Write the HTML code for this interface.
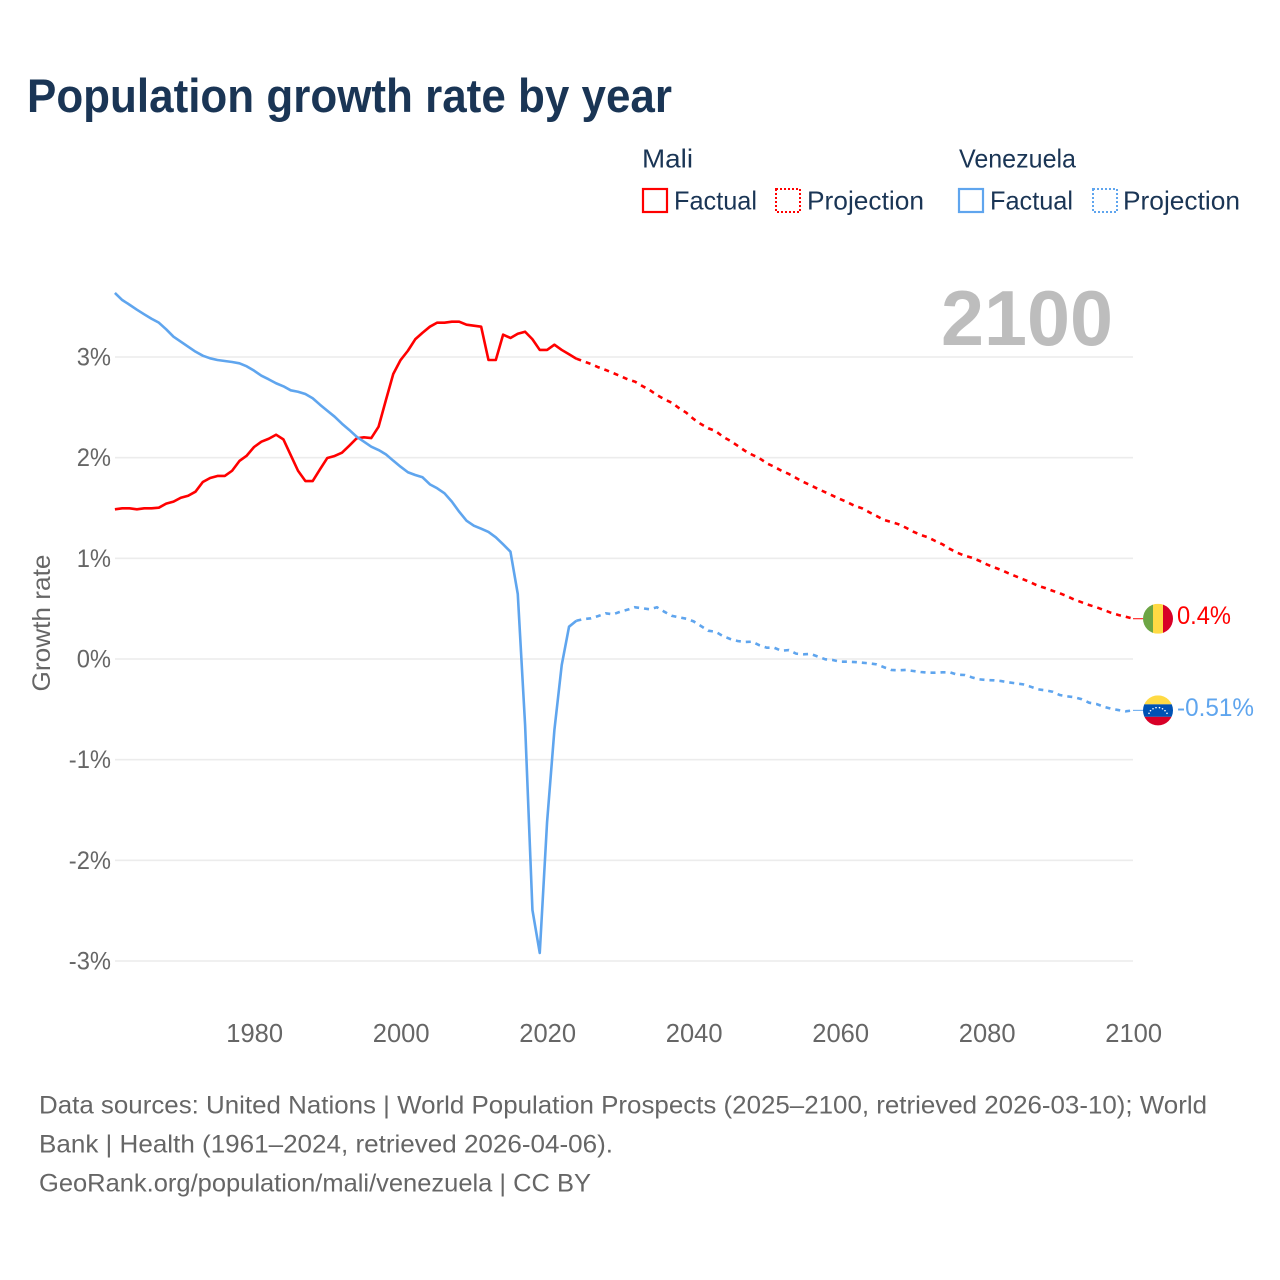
<!DOCTYPE html>
<html lang="en">
<head>
<meta charset="utf-8">
<title>Population growth rate by year</title>
<style>
html,body{margin:0;padding:0;background:#fff;width:1280px;height:1280px;overflow:hidden}
svg{display:block}
text{font-family:"Liberation Sans",sans-serif}
</style>
</head>
<body>
<svg id="chart" xmlns="http://www.w3.org/2000/svg" width="1280" height="1280" viewBox="0 0 1280 1280">
  <defs>
    <clipPath id="flag-clip"><circle cx="0" cy="0" r="15"></circle></clipPath>
  </defs>
  <rect x="0" y="0" width="1280" height="1280" fill="#fff"></rect>
  <text x="27" y="112" font-size="47" font-weight="700" fill="#1a3555" textLength="645" lengthAdjust="spacingAndGlyphs">Population growth rate by year</text>

  <g font-size="26" fill="#1a3555">
    <text x="642" y="167.5" textLength="51" lengthAdjust="spacingAndGlyphs">Mali</text>
    <text x="959" y="167.5" textLength="117" lengthAdjust="spacingAndGlyphs">Venezuela</text>
    <g>
      <rect x="643" y="189" width="24" height="23" fill="none" stroke="#ff0000" stroke-width="2.2"></rect>
      <text x="674" y="209.5" textLength="83" lengthAdjust="spacingAndGlyphs">Factual</text>
    </g>
    <g>
      <rect x="776" y="189" width="24" height="23" fill="none" stroke="#ff0000" stroke-width="2" stroke-dasharray="2 2"></rect>
      <text x="807" y="209.5" textLength="117" lengthAdjust="spacingAndGlyphs">Projection</text>
    </g>
    <g>
      <rect x="959" y="189" width="24" height="23" fill="none" stroke="#5fa5ee" stroke-width="2.2"></rect>
      <text x="990" y="209.5" textLength="83" lengthAdjust="spacingAndGlyphs">Factual</text>
    </g>
    <g>
      <rect x="1093" y="189" width="24" height="23" fill="none" stroke="#5fa5ee" stroke-width="2" stroke-dasharray="2 2"></rect>
      <text x="1123" y="209.5" textLength="117" lengthAdjust="spacingAndGlyphs">Projection</text>
    </g>
  </g>

  <g id="grid"></g>
  <g id="y-labels"></g>
  <g id="x-labels"></g>
  <text transform="translate(50,623) rotate(-90)" text-anchor="middle" font-size="25" fill="#666" textLength="137" lengthAdjust="spacingAndGlyphs">Growth rate</text>
  <text x="941" y="345" font-size="78" font-weight="700" fill="#bdbdbd" textLength="172" lengthAdjust="spacingAndGlyphs">2100</text>

  <g id="series"></g>

  <g id="flag-mali">
    <g clip-path="url(#flag-clip)">
      <rect x="-15" y="-15" width="10" height="30" fill="#6da544"></rect>
      <rect x="-5" y="-15" width="10" height="30" fill="#ffda44"></rect>
      <rect x="5" y="-15" width="10" height="30" fill="#d80027"></rect>
    </g>
  </g>
  <g id="flag-venezuela">
    <g clip-path="url(#flag-clip)">
      <rect x="-15" y="-15" width="30" height="9" fill="#ffda44"></rect>
      <rect x="-15" y="-6" width="30" height="12.5" fill="#0052b4"></rect>
      <rect x="-15" y="6.5" width="30" height="9" fill="#d80027"></rect>
      <g fill="#fff">
        <circle cx="-9" cy="3" r="0.8"></circle><circle cx="-7.5" cy="0.3" r="0.8"></circle><circle cx="-5" cy="-1.6" r="0.8"></circle><circle cx="-2" cy="-2.7" r="0.8"></circle><circle cx="1.5" cy="-2.7" r="0.8"></circle><circle cx="4.5" cy="-1.6" r="0.8"></circle><circle cx="7" cy="0.3" r="0.8"></circle><circle cx="9" cy="3" r="0.8"></circle>
      </g>
    </g>
  </g>
  <g id="end-labels"></g>

  <g font-size="25" fill="#666">
    <text x="39" y="1113.5" textLength="1168" lengthAdjust="spacingAndGlyphs">Data sources: United Nations | World Population Prospects (2025–2100, retrieved 2026-03-10); World</text>
    <text x="39" y="1152.5" textLength="574" lengthAdjust="spacingAndGlyphs">Bank | Health (1961–2024, retrieved 2026-04-06).</text>
    <text x="39" y="1191.5" textLength="552" lengthAdjust="spacingAndGlyphs">GeoRank.org/population/mali/venezuela | CC BY</text>
  </g>
</svg>
<script>
const factualStartYear = 1961;
const projectionStartYear = 2024;
const xTickYears = [1980, 2000, 2020, 2040, 2060, 2080, 2100];
const yTickValues = [3, 2, 1, 0, -1, -2, -3];
const yTickLabels = ['3%', '2%', '1%', '0%', '-1%', '-2%', '-3%'];
const maliFactual = [1.487,1.497,1.497,1.487,1.497,1.497,1.503,1.543,1.563,1.602,1.622,1.662,1.758,1.798,1.818,1.818,1.87,1.967,2.02,2.106,2.159,2.188,2.228,2.182,2.026,1.87,1.768,1.768,1.884,1.997,2.017,2.049,2.119,2.192,2.202,2.195,2.308,2.573,2.831,2.97,3.062,3.176,3.241,3.301,3.341,3.341,3.351,3.351,3.321,3.311,3.301,2.97,2.97,3.222,3.189,3.231,3.251,3.176,3.07,3.07,3.122,3.07,3.027,2.983];
const maliProjection = [2.983,2.957,2.930,2.898,2.871,2.841,2.811,2.778,2.755,2.712,2.672,2.622,2.580,2.546,2.493,2.447,2.384,2.334,2.292,2.265,2.208,2.168,2.119,2.069,2.029,1.994,1.944,1.910,1.870,1.838,1.798,1.758,1.725,1.689,1.656,1.622,1.589,1.557,1.521,1.497,1.457,1.420,1.381,1.361,1.338,1.304,1.265,1.232,1.209,1.172,1.139,1.093,1.056,1.026,1.006,0.976,0.941,0.911,0.884,0.851,0.821,0.792,0.762,0.728,0.705,0.678,0.653,0.623,0.589,0.563,0.536,0.514,0.487,0.459,0.437,0.420,0.40];
const venezuelaFactual = [3.636,3.566,3.519,3.470,3.424,3.380,3.341,3.275,3.202,3.152,3.102,3.053,3.013,2.987,2.970,2.960,2.950,2.937,2.907,2.864,2.814,2.778,2.739,2.709,2.669,2.655,2.632,2.590,2.526,2.466,2.407,2.337,2.275,2.208,2.159,2.109,2.076,2.033,1.970,1.910,1.855,1.828,1.805,1.735,1.696,1.646,1.563,1.463,1.374,1.324,1.294,1.262,1.209,1.139,1.066,0.646,-0.656,-2.493,-2.920,-1.619,-0.705,-0.060,0.321,0.380];
const venezuelaProjection = [0.380,0.397,0.404,0.427,0.454,0.444,0.470,0.490,0.514,0.504,0.494,0.514,0.470,0.430,0.414,0.400,0.374,0.328,0.281,0.271,0.228,0.199,0.179,0.169,0.172,0.136,0.112,0.112,0.082,0.089,0.053,0.047,0.050,0.023,-0.003,-0.010,-0.027,-0.027,-0.030,-0.037,-0.043,-0.053,-0.082,-0.109,-0.112,-0.109,-0.119,-0.129,-0.136,-0.136,-0.132,-0.132,-0.156,-0.159,-0.182,-0.202,-0.209,-0.212,-0.219,-0.232,-0.242,-0.252,-0.275,-0.301,-0.311,-0.325,-0.358,-0.371,-0.380,-0.400,-0.434,-0.447,-0.474,-0.494,-0.507,-0.520,-0.51];
const maliEndLabel = '0.4%';
const venezuelaEndLabel = '-0.51%';

const NS = 'http://www.w3.org/2000/svg';
const RED = '#ff0000';
const BLUE = '#5fa5ee';
const LINE_WIDTH = 2.6;
const xOf = function (year) { return 114.9 + (year - 1961) * 7.325; };
const yOf = function (value) { return 659 - value * 100.67; };
function make(tag, attrs, parent) {
  const el = document.createElementNS(NS, tag);
  Object.keys(attrs).forEach(function (k) { el.setAttribute(k, attrs[k]); });
  parent.appendChild(el);
  return el;
}
function linePoints(values, startYear) {
  return values.map(function (v, i) {
    return xOf(startYear + i).toFixed(2) + ',' + yOf(v).toFixed(2);
  }).join(' ');
}

const grid = document.getElementById('grid');
const yLabels = document.getElementById('y-labels');
yTickValues.forEach(function (v, i) {
  const line = make('line', { x1: 115, x2: 1133, y1: yOf(v), y2: yOf(v), stroke: '#ececec', 'stroke-width': 1.6 }, grid);
  
  
  const t = make('text', { x: 111, y: yOf(v) + 8.5, 'text-anchor': 'end', 'font-size': 25, fill: '#666' }, yLabels);
  
  
  t.textContent = yTickLabels[i];
  t.setAttribute('textLength', (t.getComputedTextLength() * 0.95).toFixed(1));
  t.setAttribute('lengthAdjust', 'spacingAndGlyphs');
});
const xLabels = document.getElementById('x-labels');
xTickYears.forEach(function (year) {
  const t = make('text', { x: xOf(year) + 0.6, y: 1042, 'text-anchor': 'middle', 'font-size': 25.5, fill: '#666' }, xLabels);
  
  
  t.textContent = String(year);
});

const series = document.getElementById('series');
const maliLine = make('polyline', { points: linePoints(maliFactual, factualStartYear), fill: 'none', stroke: RED, 'stroke-width': LINE_WIDTH, 'stroke-linejoin': 'round' }, series);


const maliProj = make('polyline', { points: linePoints(maliProjection, projectionStartYear), fill: 'none', stroke: RED, 'stroke-width': LINE_WIDTH, 'stroke-dasharray': '5 5' }, series);


const venLine = make('polyline', { points: linePoints(venezuelaFactual, factualStartYear), fill: 'none', stroke: BLUE, 'stroke-width': LINE_WIDTH, 'stroke-linejoin': 'round' }, series);


const venProj = make('polyline', { points: linePoints(venezuelaProjection, projectionStartYear), fill: 'none', stroke: BLUE, 'stroke-width': LINE_WIDTH, 'stroke-dasharray': '5 5' }, series);



const maliEndY = yOf(maliProjection[maliProjection.length - 1]);
const venEndY = yOf(venezuelaProjection[venezuelaProjection.length - 1]);
const maliLead = make('line', { x1: 1133, x2: 1143, y1: maliEndY, y2: maliEndY, stroke: RED, 'stroke-width': 1 }, series);


const venLead = make('line', { x1: 1133, x2: 1143, y1: venEndY, y2: venEndY, stroke: BLUE, 'stroke-width': 1 }, series);



document.getElementById('flag-mali').setAttribute('transform', 'translate(1158,' + maliEndY + ')');
document.getElementById('flag-venezuela').setAttribute('transform', 'translate(1158,' + venEndY + ')');

const endLabels = document.getElementById('end-labels');
const maliText = make('text', { x: 1177, y: maliEndY + 5.5, 'font-size': 25, fill: RED, textLength: 54, lengthAdjust: 'spacingAndGlyphs' }, endLabels);


maliText.textContent = maliEndLabel;
const venText = make('text', { x: 1177, y: venEndY + 5.5, 'font-size': 25, fill: BLUE, textLength: 77, lengthAdjust: 'spacingAndGlyphs' }, endLabels);


venText.textContent = venezuelaEndLabel;
</script>
</body>
</html>
